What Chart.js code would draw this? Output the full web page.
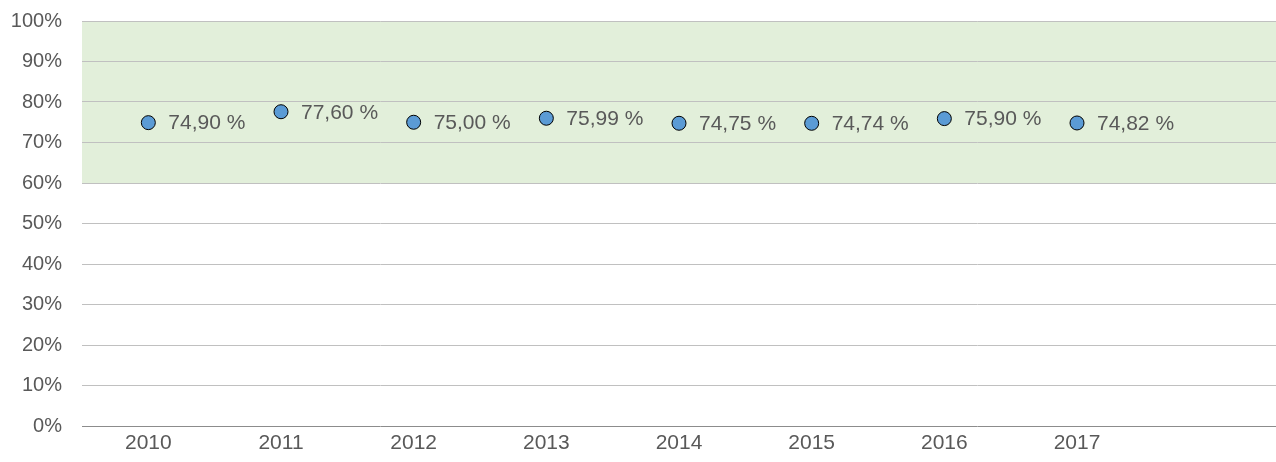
<!DOCTYPE html>
<html>
<head>
<meta charset="utf-8">
<script src="https://cdn.jsdelivr.net/npm/chart.js@4/dist/chart.umd.min.js"></script>
<style>
  html, body { margin: 0; padding: 0; background: #fff; }
  #wrap { width: 1276px; height: 462px; position: relative; }
</style>
</head>
<body>
<div id="wrap"><canvas id="rateChart"></canvas></div>
<script>
const years = ["2010", "2011", "2012", "2013", "2014", "2015", "2016", "2017", ""];
const rates = [74.90, 77.60, 75.00, 75.99, 74.75, 74.74, 75.90, 74.82, null];
const yTicks = [0, 10, 20, 30, 40, 50, 60, 70, 80, 90, 100];
const bandFrom = 60;
const bandTo = 100;

const textColor = "#595959";
const fontFamily = "'Liberation Sans', Arial, sans-serif";

// green target band behind the points
const bandPlugin = {
  id: "band",
  beforeDraw(chart) {
    const { ctx, chartArea, scales } = chart;
    const top = scales.y.getPixelForValue(bandTo);
    const bottom = scales.y.getPixelForValue(bandFrom);
    ctx.save();
    ctx.fillStyle = "#E2EFDA";
    ctx.fillRect(chartArea.left, top, chartArea.right - chartArea.left, bottom - top);
    ctx.restore();
  },
};

// value labels to the right of each point
const labelPlugin = {
  id: "valueLabels",
  afterDatasetsDraw(chart) {
    const { ctx } = chart;
    const meta = chart.getDatasetMeta(0);
    ctx.save();
    ctx.font = "21px " + fontFamily;
    ctx.fillStyle = textColor;
    ctx.textAlign = "left";
    ctx.textBaseline = "middle";
    meta.data.forEach((pt, i) => {
      const v = rates[i];
      if (v == null) return;
      const txt = v.toFixed(2).replace(".", ",") + " %";
      ctx.fillText(txt, pt.x + 20, pt.y + 1);
    });
    ctx.restore();
  },
};

const ctx = document.getElementById("rateChart").getContext("2d");

new Chart(ctx, {
  type: "line",
  data: {
    labels: years,
    datasets: [
      {
        label: "Rate",
        data: rates,
        showLine: false,
        clip: false,
        pointRadius: 7,
        pointHoverRadius: 7,
        pointBackgroundColor: "#5B9BD5",
        pointBorderColor: "#000000",
        pointBorderWidth: 1,
      },
    ],
  },
  options: {
    responsive: true,
    maintainAspectRatio: false,
    animation: false,
    events: [],
    layout: { autoPadding: false, padding: { top: 21, right: 0, left: 0, bottom: 0 } },
    plugins: {
      legend: { display: false },
      tooltip: { enabled: false },
    },
    scales: {
      x: {
        offset: true,
        grid: { display: false, drawTicks: false },
        border: { display: false },
        ticks: {
          color: textColor,
          font: { family: fontFamily, size: 21 },
          padding: 5,
          maxRotation: 0,
          autoSkip: false,
        },
        afterFit(scale) {
          scale.height = 36;
          scale.paddingLeft = 0;
          scale.paddingRight = 0;
        },
      },
      y: {
        min: 0,
        max: 100,
        afterBuildTicks(scale) {
          scale.ticks = yTicks.map((v) => ({ value: v }));
        },
        grid: {
          drawTicks: false,
          lineWidth: 1,
          color: (c) => (c.tick && c.tick.value === 0 ? "#8C8C8C" : "#C0C0C0"),
        },
        border: { display: false },
        ticks: {
          color: textColor,
          font: { family: fontFamily, size: 20 },
          padding: 20,
          callback: (v) => v + "%",
        },
        afterFit(scale) {
          scale.width = 82;
          scale.paddingTop = 0;
          scale.paddingBottom = 0;
        },
      },
    },
  },
  plugins: [bandPlugin, labelPlugin],
});
</script>
</body>
</html>
